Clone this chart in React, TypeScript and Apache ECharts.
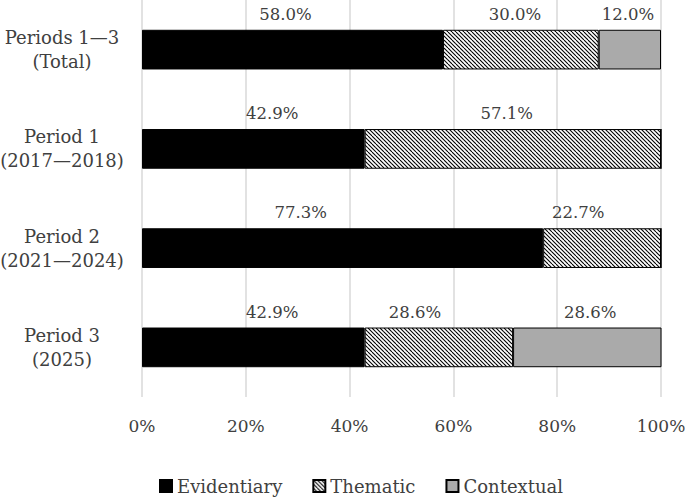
import React, { useEffect, useRef } from "react";
import * as echarts from "echarts";

const categories = ["Periods 1\u20143\n(Total)", "Period 1\n(2017\u20142018)", "Period 2\n(2021\u20142024)", "Period 3\n(2025)"];
const evidentiary = [58.0, 42.9, 77.3, 42.9];
const thematic = [30.0, 57.1, 22.7, 28.6];
const contextual = [12.0, 0, 0, 28.6];
const xTicks = [0, 20, 40, 60, 80, 100];

// label horizontal nudges (styling only)
const nudgeEvid = [-7, 19, -42, 19];
const nudgeThem = [-6, -6, -24, -24];
const nudgeCont = [-2, 0, 0, 3];

const FONT = "'DejaVu Serif', 'Liberation Serif', serif";
const TEXT = "#404040";

function makeHatch(): HTMLCanvasElement {
  const s = 8;
  const c = document.createElement("canvas");
  c.width = s;
  c.height = s;
  const g = c.getContext("2d")!;
  g.fillStyle = "#ffffff";
  g.fillRect(0, 0, s, s);
  g.strokeStyle = "#000000";
  g.lineWidth = 1.1;
  for (let k = -s; k <= s; k += 4) {
    g.beginPath();
    g.moveTo(k, 0);
    g.lineTo(k + s, s);
    g.stroke();
  }
  return c;
}

export default function App() {
  const ref = useRef<HTMLDivElement>(null);
  useEffect(() => {
    document.body.style.margin = "0";
    const chart = echarts.init(ref.current!, null, { renderer: "svg" });
    const hatch = { image: makeHatch(), repeat: "repeat" } as any;
    const mk = (name: string, vals: number[], color: any, nudge: number[]) => ({
      name,
      type: "bar",
      stack: "total",
      barWidth: "40%",
      itemStyle: { color, borderColor: "#000", borderWidth: 1 },
      label: {
        show: true,
        position: "top",
        distance: 7,
        color: TEXT,
        fontFamily: FONT,
        fontSize: 16.5,
        formatter: (p: any) => (p.value ? p.value.toFixed(1) + "%" : ""),
      },
      data: vals.map((v, i) => ({ value: v, label: { offset: [nudge[i], 0] } })),
    });
    chart.setOption({
      animation: false,
      textStyle: { fontFamily: FONT },
      grid: { left: 142, right: 24, top: 0, bottom: 103, containLabel: false, outerBoundsMode: "none" },
      legend: {
        bottom: 0,
        left: 154,
        icon: "rect",
        itemWidth: 12,
        itemHeight: 12,
        itemGap: 30,
        textStyle: { color: TEXT, fontFamily: FONT, fontSize: 18 },
        data: ["Evidentiary", "Thematic", "Contextual"],
      },
      xAxis: {
        type: "value",
        min: 0,
        max: 100,
        interval: 20,
        axisLine: { show: false },
        axisTick: { show: false },
        splitLine: { show: true, lineStyle: { color: "#d9d9d9", width: 1.5 } },
        axisLabel: {
          margin: 20,
          color: TEXT,
          fontFamily: FONT,
          fontSize: 17,
          formatter: (v: number) => (xTicks.includes(v) ? v + "%" : ""),
        },
      },
      yAxis: {
        type: "category",
        inverse: true,
        data: categories,
        axisLine: { show: false },
        axisTick: { show: false },
        axisLabel: {
          margin: 80,
          color: TEXT,
          fontFamily: FONT,
          fontSize: 18,
          lineHeight: 24,
          align: "center",
        },
      },
      series: [
        mk("Evidentiary", evidentiary, "#000000", nudgeEvid),
        mk("Thematic", thematic, hatch, nudgeThem),
        mk("Contextual", contextual, "#aaaaaa", nudgeCont),
      ],
    });
    return () => chart.dispose();
  }, []);
  return <div ref={ref} style={{ width: 685, height: 500 }} />;
}
